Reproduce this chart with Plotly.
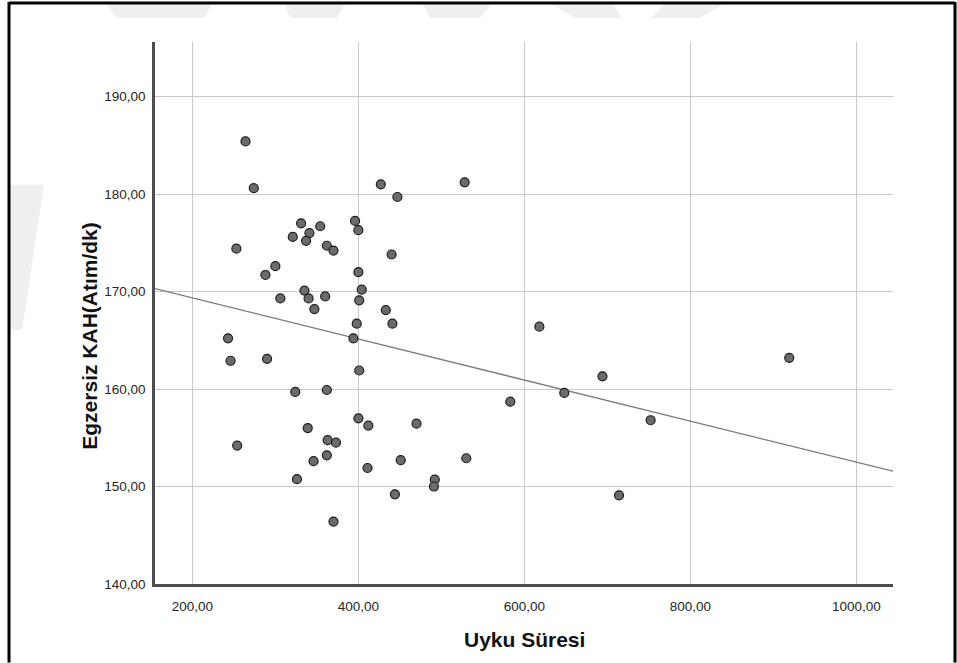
import numpy as np
import plotly.graph_objects as go

# Uyku Süresi (sleep duration) and resting heart rate for each participant
uyku_suresi = [
    264, 274, 427, 528, 447, 331, 354, 341, 396, 400,
    321, 337, 362, 370, 253, 440, 300, 288, 400, 335,
    404, 306, 340, 360, 401, 347, 433, 398, 441, 243,
    394, 246, 290, 401, 324, 362, 400, 412, 470, 339,
    254, 363, 373, 346, 362, 451, 411, 530, 326, 370,
    492, 491, 444, 618, 583, 648, 694, 752, 919, 714,
]
egzersiz_kah = [
    185.4, 180.6, 181.0, 181.2, 179.7, 177.0, 176.7, 176.0, 177.25, 176.3,
    175.6, 175.2, 174.7, 174.2, 174.4, 173.8, 172.6, 171.7, 172.0, 170.1,
    170.2, 169.3, 169.3, 169.5, 169.1, 168.2, 168.1, 166.7, 166.7, 165.2,
    165.2, 162.9, 163.1, 161.9, 159.7, 159.9, 157.0, 156.25, 156.45, 156.0,
    154.2, 154.75, 154.5, 152.6, 153.2, 152.7, 151.9, 152.9, 150.75, 146.4,
    150.7, 150.0, 149.2, 166.4, 158.7, 159.6, 161.3, 156.8, 163.2, 149.1,
]

x_ticks = [200, 400, 600, 800, 1000]
y_ticks = [140, 150, 160, 170, 180, 190]
x_range = [155, 1044]
y_range = [140, 195.6]

# Least-squares fit line across the full x range
slope, intercept = np.polyfit(uyku_suresi, egzersiz_kah, 1)
fit_x = np.array(x_range, dtype=float)
fit_y = intercept + slope * fit_x

FONT = "Liberation Sans, Arial, sans-serif"

fig = go.Figure()
fig.add_trace(go.Scatter(
    x=fit_x, y=fit_y, mode="lines",
    line=dict(color="#7a7a7a", width=1.3),
    hoverinfo="skip", showlegend=False,
))
fig.add_trace(go.Scatter(
    x=uyku_suresi, y=egzersiz_kah, mode="markers",
    marker=dict(size=9, color="#6b6b6b", line=dict(color="#1e1e1e", width=1.2)),
    showlegend=False,
))

W, H = 957, 663
L, R, T, B = 155, 64, 42, 78.5
pw, ph = W - L - R, H - T - B


def px(xp):
    return (xp - L) / pw


def py(yp):
    return (H - B - yp) / ph


def poly(points):
    return "M " + " L ".join(f"{px(a):.4f},{py(b):.4f}" for a, b in points) + " Z"


shapes = []
# faint page watermark pieces behind the chart
mark = dict(type="path", xref="paper", yref="paper", fillcolor="#efefef",
            line=dict(width=0), layer="below")
for pts in [
    [(107, 4), (212, 4), (204, 18), (117, 18)],
    [(285, 4), (345, 4), (337, 18), (290, 18)],
    [(423, 4), (491, 4), (480, 18), (430, 18)],
    [(552, 4), (613, 4), (622, 18), (575, 18)],
    [(665, 4), (724, 4), (700, 18), (650, 18)],
    [(10, 185), (44, 185), (22, 330), (10, 330)],
]:
    shapes.append({**mark, "path": poly(pts)})

# outer frame
frame = dict(type="line", xref="paper", yref="paper", line=dict(color="#000000", width=3), layer="above")
shapes.append({**frame, "x0": px(9), "x1": px(9), "y0": py(2), "y1": py(663)})
shapes.append({**frame, "x0": px(9), "x1": px(955), "y0": py(3), "y1": py(3)})
shapes.append({**frame, "x0": px(955), "x1": px(955), "y0": py(2), "y1": py(663)})

fig.update_layout(
    width=W, height=H,
    margin=dict(l=L, r=R, t=T, b=B),
    paper_bgcolor="white", plot_bgcolor="white",
    separators=",.",
    font=dict(family=FONT, size=13.5, color="#262626"),
    shapes=shapes,
    annotations=[
        dict(text="<b>Uyku Süresi</b>", xref="paper", yref="paper",
             x=px(524), y=py(640), xanchor="center", yanchor="middle",
             showarrow=False, font=dict(family=FONT, size=21, color="#111111")),
        dict(text="<b>Egzersiz KAH(Atım/dk)</b>", xref="paper", yref="paper",
             x=px(90), y=py(336), xanchor="center", yanchor="middle", textangle=-90,
             showarrow=False, font=dict(family=FONT, size=21, color="#111111")),
    ],
)
fig.update_xaxes(
    range=x_range, tickvals=x_ticks, tickformat=".2f",
    showgrid=True, gridcolor="#c9c9c9", gridwidth=1.3,
    showline=True, linecolor="#4d4d4d", linewidth=2.5,
    ticks="outside", ticklen=8, tickcolor="rgba(0,0,0,0)",
    zeroline=False,
)
fig.update_yaxes(
    range=y_range, tickvals=y_ticks, tickformat=".2f",
    showgrid=True, gridcolor="#c9c9c9", gridwidth=1.3,
    showline=True, linecolor="#4d4d4d", linewidth=2.5,
    ticks="outside", ticklen=4, tickcolor="rgba(0,0,0,0)",
    zeroline=False,
)

fig.write_html("out.html")
